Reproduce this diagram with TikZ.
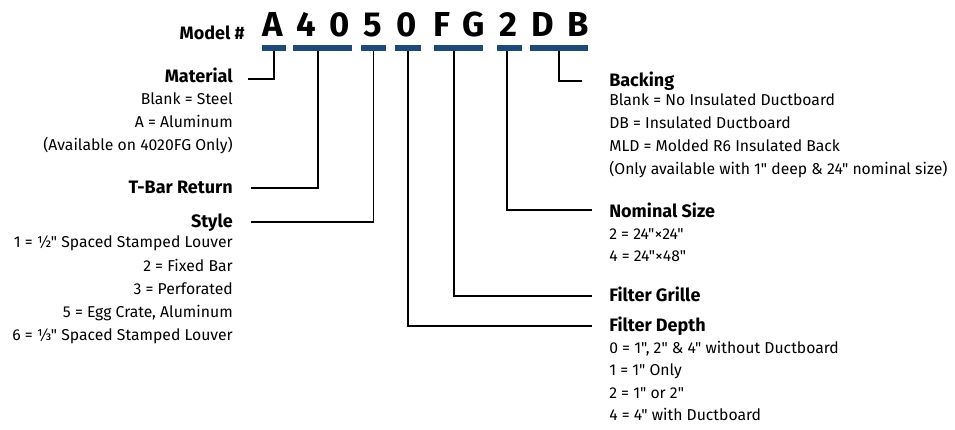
\documentclass[tikz,border=0pt]{standalone}
\usepackage{fontspec}
\setmainfont{Fira Sans}[Ligatures=TeXOff]
\usepackage{tikz}
\usetikzlibrary{positioning}

\definecolor{modelblue}{HTML}{1D4A78}

\begin{document}
\begin{tikzpicture}[
			x=0.75pt, y=-0.75pt,
			code/.style={font=\fontsize{26}{30}\selectfont\bfseries, inner sep=0, anchor=base},
			bar/.style={fill=modelblue, inner sep=0, minimum height=4.5pt, minimum width=#1},
			head/.style={font=\fontsize{13.5}{16}\selectfont\bfseries, inner sep=0},
			opt/.style={font=\fontsize{11.8}{14}\selectfont, inner sep=0},
			lead/.style={draw, line width=0.8pt},
			]
			\useasboundingbox (0,0) rectangle (955,429);
			
			%% ── Model number ──────────────────────────────────────────────────────
			\node[head, anchor=base east] (model) at (245,39) {Model \#};
			\node[code] (cA)  at (273,36) {A};
			\node[code] (c4)  at (306,36) {4};
			\node[code] (c0a) at (340,36) {0};
			\node[code] (c5)  at (373,36) {5};
			\node[code] (c0b) at (407,36) {0};
			\node[code] (cF)  at (442,36) {F};
			\node[code] (cG)  at (474,36) {G};
			\node[code] (c2)  at (508,36) {2};
			\node[code] (cD)  at (543,36) {D};
			\node[code] (cB)  at (578,36) {B};
			
			%% ── Bars under the code ───────────────────────────────────────────────
			\node[bar=18pt]   (b1) at (274,48)   {};
			\node[bar=44.3pt] (b2) at (322.5,48) {};
			\node[bar=18.8pt] (b3) at (373.5,48) {};
			\node[bar=19.5pt] (b4) at (408,48)   {};
			\node[bar=36.8pt] (b5) at (458.5,48) {};
			\node[bar=18.8pt] (b6) at (509.5,48) {};
			\node[bar=43.5pt] (b7) at (559,48)   {};
			
			%% ── Left side ─────────────────────────────────────────────────────────
			\node[head, anchor=base east] (mat) at (233,82.7) {Material};
			\node[opt, anchor=base east] (mat1) at (233,104)   {Blank = Steel};
			\node[opt, anchor=base east] (mat2) at (233,127.3) {A = Aluminum};
			\node[opt, anchor=base east] (mat3) at (233,150.6) {(Available on 4020FG Only)};
			
			\node[head, anchor=base east] (tbar) at (233,193) {T-Bar Return};
			
			\node[head, anchor=base east] (sty) at (233,227) {Style};
			\node[opt, anchor=base east] (sty1) at (233,247.7) {1 = ½" Spaced Stamped Louver};
			\node[opt, anchor=base east] (sty2) at (233,271)   {2 = Fixed Bar};
			\node[opt, anchor=base east] (sty3) at (233,294.3) {3 = Perforated};
			\node[opt, anchor=base east] (sty5) at (233,317.6) {5 = Egg Crate, Aluminum};
			\node[opt, anchor=base east] (sty6) at (233,340.9) {6 = ⅓" Spaced Stamped Louver};
			
			%% ── Right side ────────────────────────────────────────────────────────
			\node[head, anchor=base west] (back) at (609,86) {Backing};
			\node[opt, anchor=base west] (back1) at (609,105.7) {Blank = No Insulated Ductboard};
			\node[opt, anchor=base west] (back2) at (609,128.7) {DB = Insulated Ductboard};
			\node[opt, anchor=base west] (back3) at (609,151.7) {MLD = Molded R6 Insulated Back};
			\node[opt, anchor=base west] (back4) at (609,174.7) {(Only available with 1" deep \& 24" nominal size)};
			
			\node[head, anchor=base west] (nom) at (609,217.3) {Nominal Size};
			\node[opt, anchor=base west] (nom2) at (609,239.5) {2 = 24"×24"};
			\node[opt, anchor=base west] (nom4) at (609,261.5) {4 = 24"×48"};
			
			\node[head, anchor=base west] (gril) at (609,301) {Filter Grille};
			
			\node[head, anchor=base west] (dep) at (609,331.7) {Filter Depth};
			\node[opt, anchor=base west] (dep0) at (609,353.3) {0 = 1", 2" \& 4" without Ductboard};
			\node[opt, anchor=base west] (dep1) at (609,375.8) {1 = 1" Only};
			\node[opt, anchor=base west] (dep2) at (609,398.3) {2 = 1" or 2"};
			\node[opt, anchor=base west] (dep4) at (609,420.8) {4 = 4" with Ductboard};
			
			%% ── Leaders ───────────────────────────────────────────────────────────
			\coordinate (matEnd)  at (248,79);
			\coordinate (tbarEnd) at (251,188);
			\coordinate (styEnd)  at (251,222);
			\coordinate (backEnd) at (582,81);
			\coordinate (nomEnd)  at (592,210);
			\coordinate (grilEnd) at (592,296);
			\coordinate (depEnd)  at (592,326);
			
			\draw[lead] (b1.south) |- (matEnd);
			\draw[lead] ([xshift=-3.4pt]b2.south) |- (tbarEnd);
			\draw[lead] (b3.south) |- (styEnd);
			\draw[lead] (b7.south) |- (backEnd);
			\draw[lead] ([xshift=-1.9pt]b6.south) |- (nomEnd);
			\draw[lead] ([xshift=-3.4pt]b5.south) |- (grilEnd);
			\draw[lead] (b4.south) |- (depEnd);
			
		\end{tikzpicture}
\end{document}
